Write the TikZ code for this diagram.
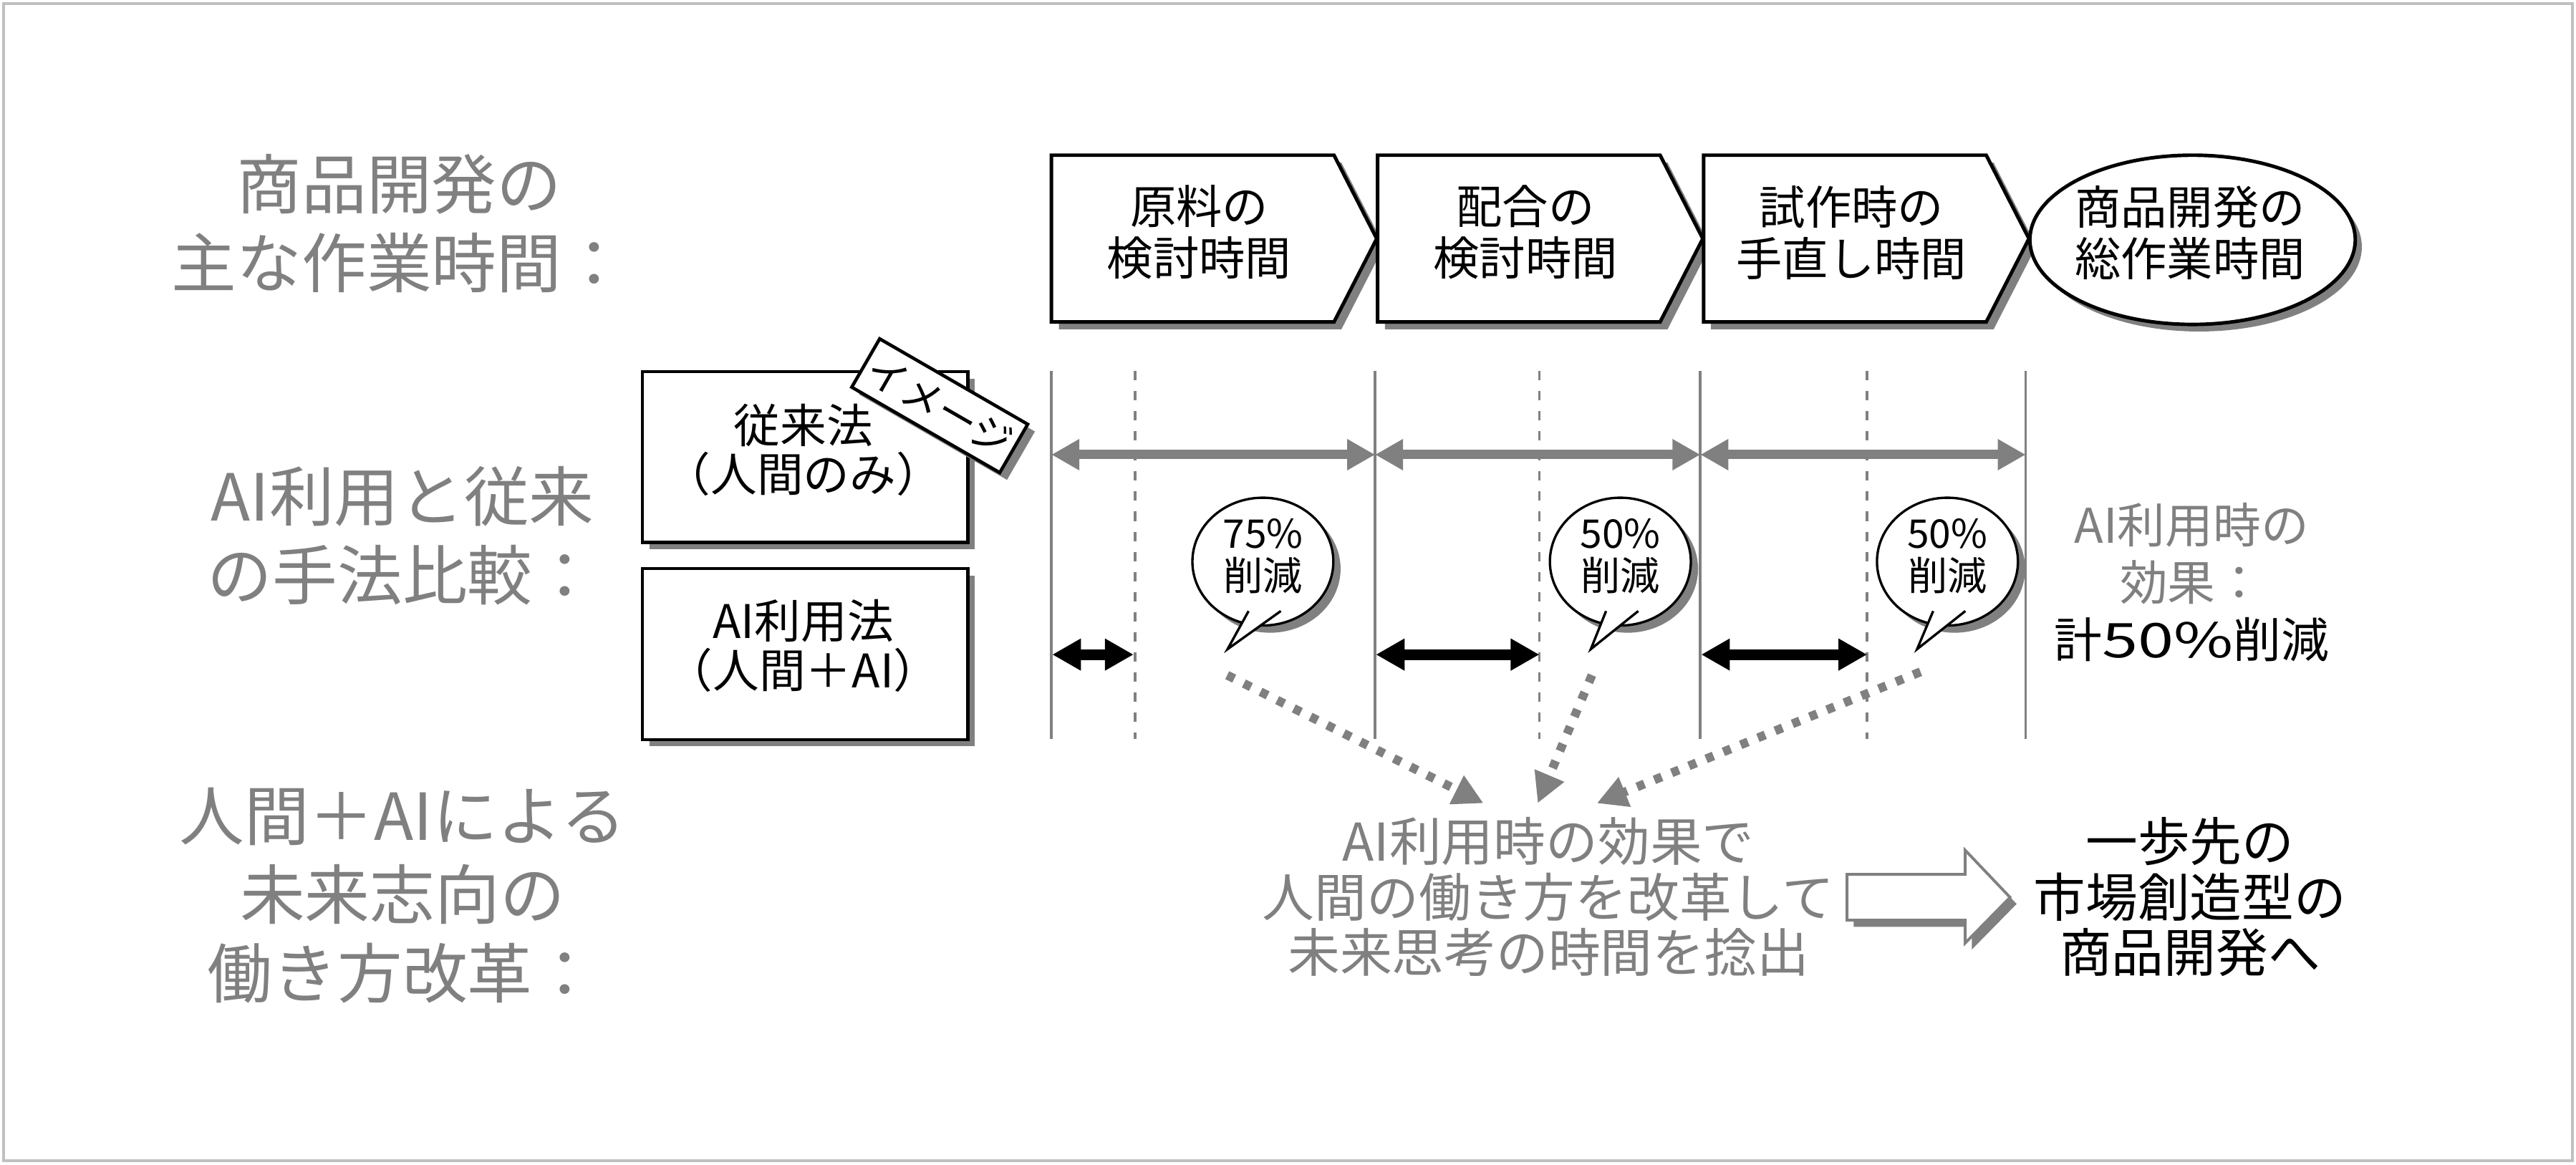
\documentclass[tikz,border=0pt]{standalone}
\usepackage{fontspec}
\usepackage{graphicx}
\setmainfont{Noto Sans CJK JP}
\usetikzlibrary{arrows.meta,shapes.geometric}
\definecolor{cg}{RGB}{128,128,128}
\definecolor{cframe}{RGB}{192,192,192}
\newcommand\pentbox[3]{%
  \fill[cg] ({#1+4.5},99) -- ({#1+176.5},99) -- ({#1+202.5},149.8) -- ({#1+176.5},200.5) -- ({#1+4.5},200.5) -- cycle;
  \draw[pentline] (#1,94.5) -- ({#1+172},94.5) -- ({#1+198},145.3) -- ({#1+172},196) -- (#1,196) -- cycle;
  \node[boxtxt] (#2) at ({#1+90},141.5) {#3};}
\newcommand\bubble[4]{%
  \fill[cg] ({#1+4.4},346.3) ellipse [x radius=42.9, y radius=38.9];
  \draw[bubline, fill=white] (#1,341.9) ellipse [x radius=42.9, y radius=38.9];
  \fill[white] ({#1-8.7},372) -- ({#1+10.9},372) -- ({#1+#2},395.2) -- cycle;
  \draw[bubline] ({#1-8.7},372) -- ({#1+#2},395.2) -- ({#1+10.9},372);
  \coordinate (#3tip) at ({#1+#2},395.2);
  \node[bubtxt] (#3) at (#1,338.5) {#4};}
\begin{document}
\begin{tikzpicture}[x=0.02294cm, y=-0.02294cm,
  pentline/.style={draw=black, fill=white, line width=1.4pt, line join=miter},
  boxtxt/.style={inner sep=0pt, align=center, font=\fontsize{18.3}{20.5}\selectfont},
  midbox/.style={draw, fill=white, line width=1.3pt, minimum width=4.542cm, minimum height=2.386cm, inner sep=0pt},
  shadowbox/.style={fill=cg, minimum width=4.542cm, minimum height=2.386cm, inner sep=0pt},
  midtxt/.style={inner sep=0pt, align=center, font=\fontsize{18.4}{19.5}\selectfont},
  lbl/.style={inner sep=0pt, align=center, text=cg, font=\fontsize{25.8}{31.3}\selectfont},
  bubline/.style={line width=0.95pt},
  bubtxt/.style={inner sep=0pt, align=center, font=\fontsize{15.7}{16.6}\selectfont},
  vline/.style={cg, line width=1.1pt},
  dline/.style={cg, line width=1.1pt, dash pattern=on 0.13cm off 0.15cm},
  garrow/.style={cg, line width=3.7pt, {Triangle[length=0.39cm,width=0.41cm]}-{Triangle[length=0.39cm,width=0.41cm]}},
  barrow/.style={black, line width=4.3pt, {Triangle[length=0.40cm,width=0.42cm]}-{Triangle[length=0.40cm,width=0.42cm]}},
  dotarrow/.style={cg, line width=3.5pt, dash pattern=on 0.11cm off 0.15cm, -{Triangle[length=0.42cm,width=0.42cm]}},
  efftxt/.style={inner sep=0pt, align=center, font=\fontsize{19}{22.8}\selectfont},
  bottxt/.style={inner sep=0pt, align=center, font=\fontsize{20.7}{22}\selectfont},
  tagbox/.style={draw, fill=white, line width=1.3pt, rotate=-30, minimum width=2.386cm, minimum height=0.78cm, inner sep=0pt, font=\fontsize{16}{16}\selectfont},
  tagshadow/.style={fill=cg, rotate=-30, minimum width=2.386cm, minimum height=0.78cm, inner sep=0pt},
  ellshape/.style={ellipse, minimum width=4.542cm, minimum height=2.363cm, inner sep=0pt}
]
\useasboundingbox (0,0) rectangle (1568,709);
\draw[cframe, line width=1.13pt] (2.2,2.2) rectangle (1565.8,706.8);

% left labels
\node[lbl] (lab1) at (243,136) {商品開発の\\主な作業時間：};
\node[lbl] (lab2) at (245,326) {AI利用と従来\\の手法比較：};
\node[lbl] (lab3) at (245,545) {人間＋AIによる\\未来志向の\\働き方改革：};

% top process row
\pentbox{640}{p1}{原料の\\検討時間}
\pentbox{838.5}{p2}{配合の\\検討時間}
\pentbox{1037}{p3}{試作時の\\手直し時間}
\node[ellshape, fill=cg] (totsh) at (1338.6,150.3) {};
\node[ellshape, draw, fill=white, line width=1.4pt] (tot) at (1334.6,146) {};
\node[boxtxt] (tott) at (1333,141.7) {商品開発の\\総作業時間};

% method boxes
\node[shadowbox] (tradsh) at (494.2,282.5) {};
\node[midbox] (trad) at (490,278.3) {};
\node[midtxt] (tradt) at (489,274) {従来法\\（人間のみ）};
\node[shadowbox] (aimsh) at (494.2,402.4) {};
\node[midbox] (aim) at (490,398.2) {};
\node[midtxt] (aimt) at (489,393.2) {AI利用法\\（人間＋AI）};
\node[tagshadow] (tagsh) at (576.4,251.4) {};
\node[tagbox] (tag) at (572,247) {イメージ};

% grid lines
\foreach \x in {640,837,1035,1233} \draw[vline] (\x,226) -- (\x,450);
\foreach \x in {691,937,1136.5} \draw[dline] (\x,226) -- (\x,450);

% conventional durations
\draw[garrow] (640,276.8) -- (837,276.8);
\draw[garrow] (837,276.8) -- (1035,276.8);
\draw[garrow] (1035,276.8) -- (1233,276.8);
% AI durations
\draw[barrow] (640.5,398.5) -- (690,398.5);
\draw[barrow] (837.5,398.5) -- (937,398.5);
\draw[barrow] (1035.5,398.5) -- (1136.5,398.5);

% bubbles
\bubble{768.7}{-21.5}{b1}{75\%\\削減}
\bubble{986.3}{-18}{b2}{50\%\\削減}
\bubble{1185.4}{-18.5}{b3}{50\%\\削減}

% effect text
\node[efftxt] (eff) at (1334,354.5) {\textcolor{cg}{AI利用時の}\\\textcolor{cg}{効果：}\\計\scalebox{1.35}[1]{50\%}削減};

% bottom texts
\node[bottxt, text=cg] (ctr) at (942.5,546) {AI利用時の効果で\\人間の働き方を改革して\\未来思考の時間を捻出};
\node[bottxt] (goal) at (1333,546) {一歩先の\\市場創造型の\\商品開発へ};

% dotted arrows
\coordinate (s1) at (747,411);
\coordinate (s2) at (969,411);
\coordinate (s3) at (1169,409);
\coordinate (e1) at (903,489);
\coordinate (e2) at (936,489);
\coordinate (e3) at (972,489);
\draw[dotarrow] (s1) -- (e1);
\draw[dotarrow] (s2) -- (e2);
\draw[dotarrow] (s3) -- (e3);

% open block arrow
\fill[cg] (1128.3,536.3) -- (1200.2,536.3) -- (1200.2,521.6) -- (1227.5,550.3) -- (1200.2,578.1) -- (1200.2,564.2) -- (1128.3,564.2) -- cycle;
\draw[cg, line width=1.1pt, fill=white, line join=miter] (1124.3,532.3) -- (1196.2,532.3) -- (1196.2,517.6) -- (1223.5,546.3) -- (1196.2,574.1) -- (1196.2,560.2) -- (1124.3,560.2) -- cycle;
\end{tikzpicture}
\end{document}
